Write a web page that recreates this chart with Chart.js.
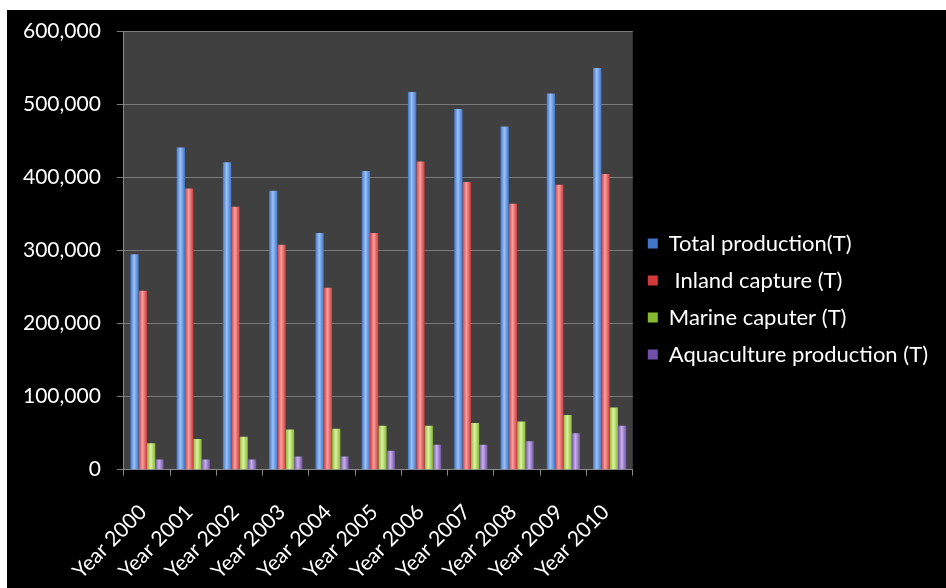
<!DOCTYPE html>
<html>
<head>
<meta charset="utf-8">
<script src="https://cdn.jsdelivr.net/npm/chart.js@4"></script>
<style>
  html, body { margin: 0; padding: 0; background: #fff; }
  #wrap { position: absolute; left: 7px; top: 10px; width: 939px; height: 578px; background: #000; }
</style>
</head>
<body>
<div id="wrap"><canvas id="fishChart"></canvas></div>
<script>
const years = ['Year 2000', 'Year 2001', 'Year 2002', 'Year 2003', 'Year 2004', 'Year 2005',
  'Year 2006', 'Year 2007', 'Year 2008', 'Year 2009', 'Year 2010'];
const totalProduction = [295000, 441000, 421000, 382000, 324000, 409000, 517000, 494000, 470000, 515000, 550000];
const inlandCapture = [245000, 385000, 360000, 308000, 249000, 324000, 422000, 394000, 364000, 390000, 405000];
const marineCapture = [36000, 42000, 45000, 55000, 56000, 60000, 60000, 64000, 66000, 75000, 85000];
const aquaculture = [14000, 14000, 14000, 18000, 18000, 26000, 34000, 34000, 39000, 50000, 60000];

const catPct = 0.72;

// colours: [edge, light centre, flat]
const palette = [
  ['#3f76c8', '#9cc2f7', '#5b8fdc'],
  ['#d03a3a', '#f7a0a0', '#e05a5a'],
  ['#86b830', '#dcf2a4', '#a4d050'],
  ['#7050a8', '#c8b2e8', '#9070c0']
];

function barFill(i) {
  return function (ctx) {
    const col = palette[i];
    if (ctx.type !== 'data') return col[2];
    const chart = ctx.chart;
    const xs = chart.scales.x;
    if (!xs || !chart.chartArea) return col[2];
    const catW = xs.width / years.length;
    const bw = catW * catPct / 4;
    const left = xs.getPixelForValue(ctx.dataIndex) - catW * catPct / 2 + i * bw;
    const g = chart.ctx.createLinearGradient(left, 0, left + bw, 0);
    g.addColorStop(0, col[0]);
    g.addColorStop(0.45, col[1]);
    g.addColorStop(1, col[0]);
    return g;
  };
}

const plotBg = {
  id: 'plotBg',
  beforeDraw(chart) {
    const a = chart.chartArea;
    chart.ctx.save();
    chart.ctx.fillStyle = '#404040';
    chart.ctx.fillRect(a.left, a.top, a.right - a.left, a.bottom - a.top);
    chart.ctx.restore();
  }
};

Chart.defaults.font.family = 'Lato, "Open Sans", sans-serif';
Chart.defaults.color = '#ffffff';

new Chart(document.getElementById('fishChart'), {
  type: 'bar',
  data: {
    labels: years,
    datasets: [
      { label: 'Total production(T)', data: totalProduction, backgroundColor: barFill(0) },
      { label: ' Inland capture (T)', data: inlandCapture, backgroundColor: barFill(1) },
      { label: 'Marine caputer (T)', data: marineCapture, backgroundColor: barFill(2) },
      { label: 'Aquaculture production (T)', data: aquaculture, backgroundColor: barFill(3) }
    ]
  },
  options: {
    responsive: true,
    maintainAspectRatio: false,
    animation: false,
    layout: { padding: { top: 0, right: 8, bottom: 0, left: 0 } },
    datasets: {
      bar: { barPercentage: 1.0, categoryPercentage: catPct }
    },
    scales: {
      x: {
        grid: { display: true, drawOnChartArea: false, offset: true, color: '#888', tickLength: 6 },
        border: { color: '#888' },
        ticks: { color: '#fff', font: { size: 21 }, maxRotation: 45, minRotation: 45, padding: 24, labelOffset: -4 },
        afterFit: scale => { scale.height -= 20; } // let the labels hang a little lower
      },
      y: {
        min: 0,
        max: 600000,
        grid: { color: '#7a7a7a', tickLength: 7 },
        border: { color: '#888' },
        ticks: {
          stepSize: 100000,
          color: '#fff',
          font: { size: 21, lineHeight: 1 },
          padding: 16,
          callback: v => v.toLocaleString('en-US')
        },
        afterFit: scale => { scale.paddingTop -= 5; }
      }
    },
    plugins: {
      legend: {
        position: 'right',
        maxWidth: 400,
        labels: {
          color: '#fff',
          font: { size: 22 },
          boxWidth: 10,
          boxHeight: 10,
          padding: 15
        }
      },
      tooltip: { enabled: false }
    }
  },
  plugins: [plotBg]
});
</script>
</body>
</html>
